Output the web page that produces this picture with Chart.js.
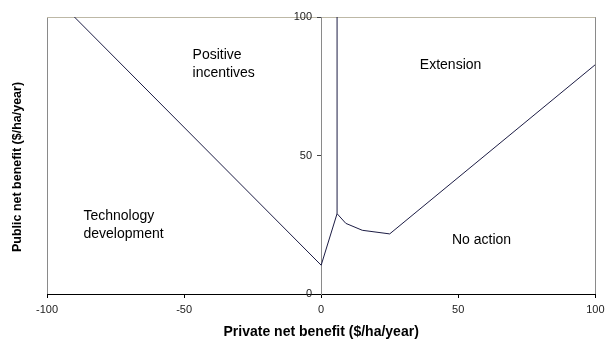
<!DOCTYPE html>
<html>
<head>
<meta charset="utf-8">
<script src="https://cdn.jsdelivr.net/npm/chart.js@4/dist/chart.umd.min.js"></script>
<style>
  html, body { margin: 0; padding: 0; background: #ffffff; }
  #wrap { width: 610px; height: 346px; position: relative; }
</style>
</head>
<body>
<div id="wrap"><canvas id="c"></canvas></div>
<script>
// ---- data ----
const curveX   = [-90, 0, 5.8, 9, 15, 25, 100];
const curveY   = [100, 10.4, 29, 25.5, 23, 21.7, 82.8];
const barrierX = [5.8, 5.8];
const barrierY = [29, 100];
const xTicks = [-100, -50, 0, 50, 100];
const yTicks = [0, 50, 100];
const regionNames = [["Positive", "incentives"], ["Extension"], ["Technology", "development"], ["No action"]];
const regionAt = [[-46.9, 86.2], [36.0, 82.5], [-86.7, 28.0], [47.7, 19.3]];

const pts = (xs, ys) => xs.map((x, i) => ({ x: x, y: ys[i] }));
const FONT = "'Liberation Sans', Arial, sans-serif";

const regionLabels = {
  id: 'regionLabels',
  afterDatasetsDraw(chart) {
    const ctx = chart.ctx, xs = chart.scales.x, ys = chart.scales.y;
    ctx.save();
    ctx.font = "14px " + FONT;
    ctx.fillStyle = '#000';
    ctx.textAlign = 'left';
    ctx.textBaseline = 'middle';
    regionNames.forEach((lines, i) => {
      const px = xs.getPixelForValue(regionAt[i][0]);
      const py = ys.getPixelForValue(regionAt[i][1]);
      lines.forEach((t, j) => ctx.fillText(t, px, py + j * 18));
    });
    // y-axis title at left
    ctx.font = "bold 12.5px " + FONT;
    ctx.textAlign = 'center';
    ctx.translate(18, 167);
    ctx.rotate(-Math.PI / 2);
    ctx.fillText('Public net benefit ($/ha/year)', 0, 0);
    ctx.restore();
  }
};

new Chart(document.getElementById('c'), {
  type: 'scatter',
  data: {
    datasets: [
      { data: pts(curveX, curveY), showLine: true, borderColor: '#1c1c44', borderWidth: 1, pointRadius: 0, tension: 0 },
      { data: pts(barrierX, barrierY), showLine: true, borderColor: '#1c1c44', borderWidth: 1, pointRadius: 0 }
    ]
  },
  options: {
    responsive: true,
    maintainAspectRatio: false,
    animation: false,
    devicePixelRatio: 1,
    layout: { padding: { left: 47, right: 11, top: 17, bottom: 5.5 } },
    plugins: { legend: { display: false }, tooltip: { enabled: false } },
    scales: {
      x: {
        type: 'linear', min: -100, max: 100,
        afterBuildTicks: (ax) => { ax.ticks = xTicks.map(v => ({ value: v })); },
        grid: {
          color: (c) => (c.tick && (c.tick.value === -100 || c.tick.value === 100)) ? '#8a8a8a' : 'rgba(0,0,0,0)',
          tickColor: '#000', tickLength: 4, lineWidth: 1
        },
        border: { color: '#000', width: 1 },
        ticks: { color: '#222', font: { family: FONT, size: 11 }, padding: 5.5, maxRotation: 0 },
        title: { display: true, text: 'Private net benefit ($/ha/year)', color: '#000', font: { family: FONT, size: 14, weight: 'bold' }, padding: { top: 1.5, bottom: 0 } }
      },
      y: {
        type: 'linear', min: 0, max: 100,
        position: { x: 0 },
        afterBuildTicks: (ax) => { ax.ticks = yTicks.map(v => ({ value: v })); },
        grid: {
          color: (c) => (c.tick && c.tick.value === 100) ? '#bdb8a6' : 'rgba(0,0,0,0)',
          tickColor: '#444', tickLength: 4, lineWidth: 1
        },
        border: { color: '#8a8a8a', width: 1 },
        ticks: { color: '#222', font: { family: FONT, size: 11 }, callback: (v) => v + '   ' }
      }
    }
  },
  plugins: [regionLabels]
});
</script>
</body>
</html>
